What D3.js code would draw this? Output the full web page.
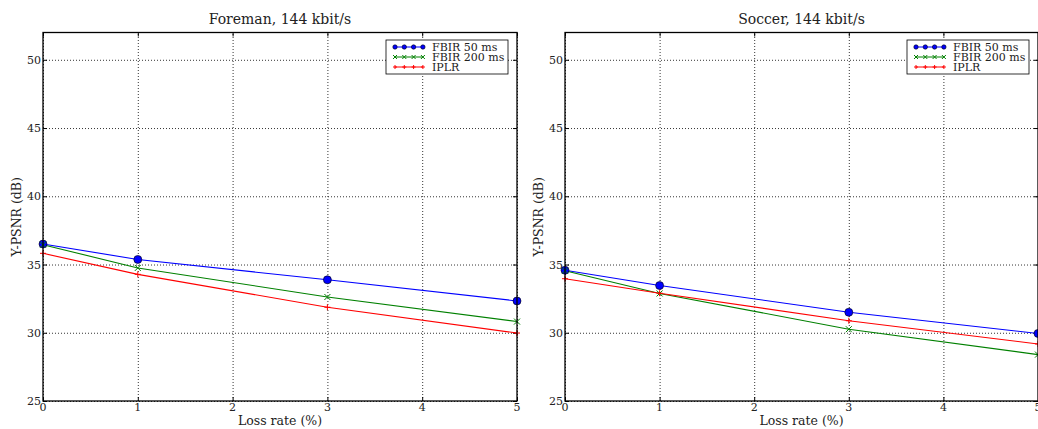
<!DOCTYPE html>
<html>
<head>
<meta charset="utf-8">
<script src="https://cdn.jsdelivr.net/npm/d3@7"></script>
<style>
body { margin: 0; background: #fff; }
text { font-family: "DejaVu Serif", serif; fill: #222; }
</style>
</head>
<body>
<script>
// loss rates (%) on the x axis
var lossRates = [0, 1, 3, 5];
var xTicks = [0, 1, 2, 3, 4, 5];
var yTicks = [25, 30, 35, 40, 45, 50];

var seriesNames = ["FBIR 50 ms", "FBIR 200 ms", "IPLR"];

// Foreman, 144 kbit/s
var foremanFbir50 = [36.5, 35.37, 33.88, 32.33];
var foremanFbir200 = [36.45, 34.75, 32.62, 30.82];
var foremanIplr = [35.82, 34.28, 31.87, 29.98];

// Soccer, 144 kbit/s
var soccerFbir50 = [34.58, 33.46, 31.5, 29.95];
var soccerFbir200 = [34.55, 32.88, 30.26, 28.4];
var soccerIplr = [33.96, 32.9, 30.88, 29.18];

var width = 1038, height = 429;

var svg = d3.select("body").append("svg")
    .attr("width", width)
    .attr("height", height);

var colors = ["#0000ff", "#008000", "#ff0000"];
var markers = ["circle", "x", "plus"];

function drawMarker(g, type, x, y, color, size){
    if (type == "circle") {
        g.append("circle").attr("cx", x).attr("cy", y).attr("r", size)
            .attr("fill", color).attr("stroke", "#000").attr("stroke-width", 0.6);
    } else if (type == "x") {
        g.append("path")
            .attr("d", "M" + (x - size) + "," + (y - size) + "L" + (x + size) + "," + (y + size) +
                "M" + (x - size) + "," + (y + size) + "L" + (x + size) + "," + (y - size))
            .attr("stroke", color).attr("stroke-width", 1);
    } else {
        g.append("path")
            .attr("d", "M" + (x - size) + "," + y + "L" + (x + size) + "," + y +
                "M" + x + "," + (y - size) + "L" + x + "," + (y + size))
            .attr("stroke", color).attr("stroke-width", 1);
    }
}

//draw one panel
function drawPanel(left, right, title, series){
    var top = 32.5, bottom = 401;
    var x = d3.scaleLinear().domain([0, 5]).range([left, right]);
    var y = d3.scaleLinear().domain([25, 52]).range([bottom, top]);

    var g = svg.append("g");

    //grid
    g.append("g").attr("transform", "translate(0," + bottom + ")")
        .call(d3.axisBottom(x).tickValues(xTicks).tickSize(-(bottom - top)).tickFormat(""))
        .call(function(a){
            a.select(".domain").remove();
            a.selectAll("line").attr("stroke", "#000").attr("stroke-dasharray", "1,2").attr("stroke-width", 0.8);
        });
    g.append("g").attr("transform", "translate(" + left + ",0)")
        .call(d3.axisLeft(y).tickValues(yTicks).tickSize(-(right - left)).tickFormat(""))
        .call(function(a){
            a.select(".domain").remove();
            a.selectAll("line").attr("stroke", "#000").attr("stroke-dasharray", "1,2").attr("stroke-width", 0.8);
        });

    //inward ticks on all sides
    [[d3.axisBottom(x).tickValues(xTicks), bottom],
     [d3.axisTop(x).tickValues(xTicks), top]].forEach(function(s){
        g.append("g").attr("transform", "translate(0," + s[1] + ")")
            .call(s[0].tickSize(-4).tickFormat(""))
            .call(function(a){ a.select(".domain").remove(); a.selectAll("line").attr("stroke", "#000"); });
    });
    [[d3.axisLeft(y).tickValues(yTicks), left], [d3.axisRight(y).tickValues(yTicks), right]].forEach(function(s){
        g.append("g").attr("transform", "translate(" + s[1] + ",0)")
            .call(s[0].tickSize(-4).tickFormat(""))
            .call(function(a){ a.select(".domain").remove(); a.selectAll("line").attr("stroke", "#000"); });
    });

    //tick labels
    g.selectAll(".xl").data(xTicks).enter().append("text")
        .attr("x", function(d){ return x(d); }).attr("y", bottom + 10)
        .attr("text-anchor", "middle").attr("font-size", 11).text(function(d){ return d; });
    g.selectAll(".yl").data(yTicks).enter().append("text")
        .attr("x", left - 2).attr("y", function(d){ return y(d) + 4; })
        .attr("text-anchor", "end").attr("font-size", 11).text(function(d){ return d; });

    //lines and markers
    var line = d3.line().x(function(d, i){ return x(lossRates[i]); }).y(function(d){ return y(d); });
    series.forEach(function(vals, k){
        g.append("path").datum(vals).attr("d", line)
            .attr("fill", "none").attr("stroke", colors[k]).attr("stroke-width", 1.1);
    });
    series.forEach(function(vals, k){
        vals.forEach(function(v, i){
            drawMarker(g, markers[k], x(lossRates[i]), y(v), colors[k], k == 0 ? 4 : 3);
        });
    });

    //frame
    g.append("rect").attr("x", left).attr("y", top)
        .attr("width", right - left).attr("height", bottom - top)
        .attr("fill", "none").attr("stroke", "#000").attr("stroke-width", 1.3);

    //title and labels
    g.append("text").attr("x", (left + right) / 2).attr("y", 24)
        .attr("text-anchor", "middle").attr("font-size", 14).text(title);
    g.append("text").attr("x", (left + right) / 2).attr("y", 425)
        .attr("text-anchor", "middle").attr("font-size", 12.5).text("Loss rate (%)");
    g.append("text").attr("transform", "translate(" + (left - 22) + "," + ((top + bottom) / 2) + ") rotate(-90)")
        .attr("text-anchor", "middle").attr("font-size", 12.5).text("Y-PSNR (dB)");

    //legend
    var lx = right - 131, ly = 40;
    var lg = g.append("g");
    lg.append("rect").attr("x", lx).attr("y", ly).attr("width", 122).attr("height", 34)
        .attr("fill", "#fff").attr("stroke", "#000").attr("stroke-width", 0.8);
    seriesNames.forEach(function(name, k){
        var yy = ly + 7 + k * 10;
        lg.append("line").attr("x1", lx + 9).attr("x2", lx + 37).attr("y1", yy).attr("y2", yy)
            .attr("stroke", colors[k]).attr("stroke-width", 1);
        for (var m = 0; m < 4; m++) {
            drawMarker(lg, markers[k], lx + 9 + m * 9.3, yy, colors[k], k == 0 ? 2.2 : 2);
        }
        lg.append("text").attr("x", lx + 46).attr("y", yy + 4).attr("font-size", 11).text(name);
    });
}

drawPanel(43, 517, "Foreman, 144 kbit/s", [foremanFbir50, foremanFbir200, foremanIplr]);
drawPanel(565, 1038, "Soccer, 144 kbit/s", [soccerFbir50, soccerFbir200, soccerIplr]);
</script>
</body>
</html>
